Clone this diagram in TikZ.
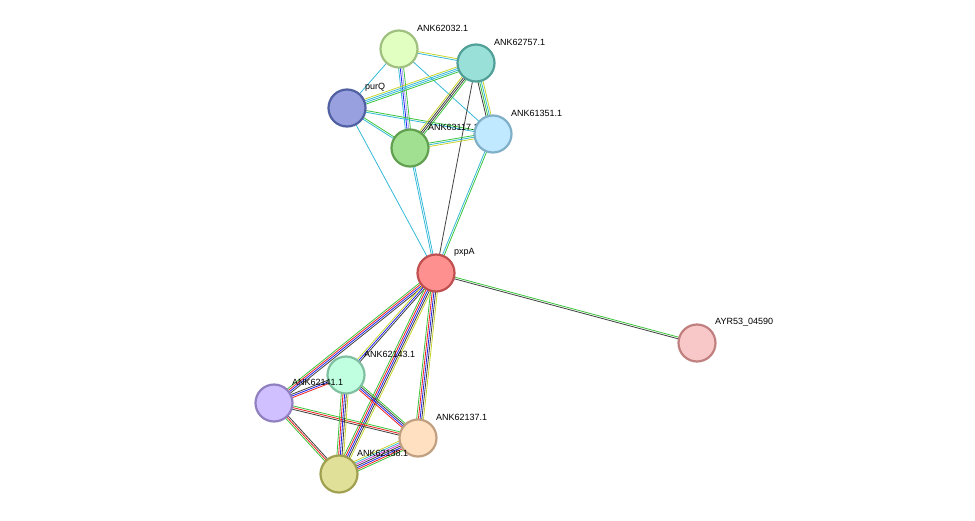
\documentclass[tikz,border=0pt]{standalone}
\usepackage{fontspec}
\setmainfont{Liberation Sans}
\usetikzlibrary{calc}
\definecolor{eg}{HTML}{3AC43A}
\definecolor{ey}{HTML}{C8D42C}
\definecolor{ec}{HTML}{35B8D8}
\definecolor{ek}{HTML}{404040}
\definecolor{er}{HTML}{F02020}
\definecolor{eb}{HTML}{2020F0}
\definecolor{el}{HTML}{B0A8F0}
\definecolor{em}{HTML}{D040D0}
\definecolor{fa}{HTML}{E0FFC0}\definecolor{da}{HTML}{A0C080}
\definecolor{fb}{HTML}{98E0D8}\definecolor{db}{HTML}{50A098}
\definecolor{fq}{HTML}{98A0E0}\definecolor{dq}{HTML}{5060A0}
\definecolor{fd}{HTML}{A0E090}\definecolor{dd}{HTML}{60A050}
\definecolor{fe}{HTML}{C0E8FF}\definecolor{de}{HTML}{80B0C8}
\definecolor{fp}{HTML}{FF9090}\definecolor{dp}{HTML}{C05050}
\definecolor{fy}{HTML}{F8C8C8}\definecolor{dy}{HTML}{C08080}
\definecolor{ff}{HTML}{C0FFE0}\definecolor{df}{HTML}{80C0A0}
\definecolor{fg}{HTML}{D0C0FF}\definecolor{dg}{HTML}{9080C0}
\definecolor{fh}{HTML}{FFE0C0}\definecolor{dh}{HTML}{C0A080}
\definecolor{fi}{HTML}{E0E098}\definecolor{di}{HTML}{A0A050}
\newcommand\medge[4]{%
  \foreach \c [count=\i] in {#4} {%
    \pgfmathsetmacro\o{(\i-(#3+1)/2)*1.7}%
    \draw[\c, line width=0.8pt] ($(#1)!\o pt!90:(#2)$) -- ($(#2)!\o pt!-90:(#1)$);
  }}
\tikzset{prot/.style={circle, minimum size=37pt, inner sep=0pt, line width=2.2pt},
  lab/.style={anchor=west, font=\fontsize{9}{10}\selectfont, inner sep=0pt}}
\begin{document}
\begin{tikzpicture}[x=1pt,y=-1pt]
\useasboundingbox (0,0) rectangle (975,520);
\coordinate (a) at (399,49);
\coordinate (b) at (476,63);
\coordinate (q) at (347,108);
\coordinate (d) at (410,148);
\coordinate (e) at (493,134);
\coordinate (p) at (436,273);
\coordinate (y) at (697,343);
\coordinate (f) at (346,375);
\coordinate (g) at (274,403);
\coordinate (h) at (418,438);
\coordinate (i) at (339,474);
\medge{a}{b}{2}{ec,ey}
\medge{a}{q}{1}{ec}
\medge{a}{d}{4}{ec,eb,el,eg}
\medge{a}{e}{1}{ec}
\medge{q}{b}{4}{eg,ec,ec,ey}
\medge{q}{d}{2}{ec,eg}
\medge{q}{e}{2}{ec,eg}
\medge{q}{p}{1}{ec}
\medge{b}{d}{4}{ey,ek,ek,eg}
\medge{b}{e}{4}{ek,eg,ec,ey}
\medge{b}{p}{1}{ek}
\medge{d}{e}{3}{ey,ec,eg}
\medge{d}{p}{2}{ec,ec}
\medge{e}{p}{2}{ec,eg}
\medge{p}{y}{2}{ek,eg}
\medge{p}{g}{4}{eg,er,eb,ek}
\medge{p}{f}{3}{ey,eb,ek}
\medge{p}{i}{5}{eg,er,eb,ek,ey}
\medge{p}{h}{5}{eg,er,eb,ek,ey}
\medge{g}{f}{3}{er,eb,ek}
\medge{g}{h}{3}{ek,er,eg}
\medge{g}{i}{3}{eg,er,ek}
\medge{f}{i}{5}{eg,er,eb,ek,ey}
\medge{f}{h}{4}{er,eb,ek,eg}
\medge{h}{i}{7}{ey,ec,em,ek,eb,er,eg}
\node[prot, fill=fa, draw=da] (na) at (a) {};
\node[lab] (la) at (417,28) {ANK62032.1};
\node[prot, fill=fb, draw=db] (nb) at (b) {};
\node[lab] (lb) at (494,42) {ANK62757.1};
\node[prot, fill=fq, draw=dq] (nq) at (q) {};
\node[lab] (lq) at (365,87) {purQ};
\node[prot, fill=fd, draw=dd] (nd) at (d) {};
\node[lab] (ld) at (428,127) {ANK63117.1};
\node[prot, fill=fe, draw=de] (ne) at (e) {};
\node[lab] (le) at (511,113) {ANK61351.1};
\node[prot, fill=fp, draw=dp] (np) at (p) {};
\node[lab] (lp) at (454,252) {pxpA};
\node[prot, fill=fy, draw=dy] (ny) at (y) {};
\node[lab] (ly) at (715,322) {AYR53\_04590};
\node[prot, fill=ff, draw=df] (nf) at (f) {};
\node[prot, fill=fg, draw=dg] (ng) at (g) {};
\node[lab] (lf) at (364,354) {ANK62143.1};
\node[lab] (lg) at (292,382) {ANK62141.1};
\node[prot, fill=fh, draw=dh] (nh) at (h) {};
\node[lab] (lh) at (436,417) {ANK62137.1};
\node[prot, fill=fi, draw=di] (ni) at (i) {};
\node[lab] (li) at (357,453) {ANK62138.1};
\end{tikzpicture}
\end{document}
